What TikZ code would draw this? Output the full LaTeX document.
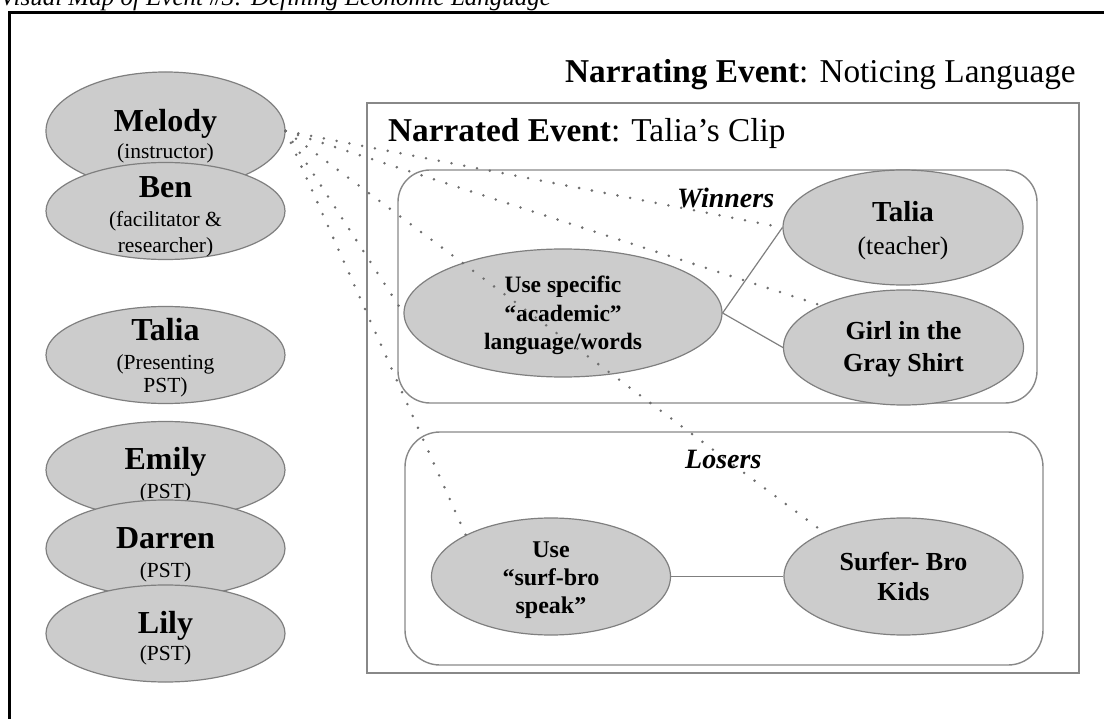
\documentclass[tikz,border=0pt]{standalone}
\usepackage{fontspec}
\setmainfont{Liberation Serif}
\usetikzlibrary{shapes.geometric}
\definecolor{shade}{HTML}{CCCCCC}
\definecolor{rim}{HTML}{7F7F7F}
\definecolor{dotc}{HTML}{6E6E6E}
\definecolor{boxline}{HTML}{888888}

\begin{document}
\begin{tikzpicture}[x=1pt,y=-1pt,
  blob/.style={ellipse, draw=rim, fill=shade, line width=1.2pt, inner sep=0pt},
  person/.style={blob, minimum width=239pt, minimum height=97pt},
  txt/.style={anchor=base, inner sep=0pt, text=black},
  nm/.style={txt, font=\fontsize{32}{38}\selectfont\bfseries},
  role/.style={txt, font=\fontsize{21.5}{26}\selectfont},
  inner/.style={txt, font=\fontsize{26}{30}\selectfont\bfseries},
  heading/.style={anchor=base west, inner sep=0pt, font=\fontsize{33.3}{40}\selectfont},
  group/.style={anchor=base west, inner sep=0pt, font=\fontsize{28}{32}\selectfont\bfseries\itshape},
  frame/.style={draw=boxline, line width=1.4pt},
  link/.style={draw=rim, line width=1.2pt},
  dots/.style={draw=dotc, line width=2.8pt, line cap=round, dash pattern=on 0pt off 13pt}
]
\useasboundingbox (0,0) rectangle (1104,719);

% caption and page frame
\node[anchor=base west, inner sep=0pt, font=\fontsize{25}{30}\selectfont\itshape]
  (maptitle) at (0,6) {Visual Map of Event \#3: Defining Economic Language};
\draw[line width=3.8pt] (9.5,719) -- (9.5,12.5) -- (1104,12.5);

% participants column
\node[blob, minimum width=239pt, minimum height=118pt] (melody) at (165.5,131) {};
\node[nm] (melodyN) at (165.5,132) {Melody};
\node[role] (melodyR) at (165.5,159) {(instructor)};

\node[person] (ben) at (165.5,211) {};
\node[nm] (benN) at (165.5,198) {Ben};
\node[role] (benR1) at (165.5,227) {(facilitator \&};
\node[role] (benR2) at (165.5,253) {researcher)};

\node[person] (taliaP) at (165.5,355) {};
\node[nm] (taliaPN) at (165.5,341) {Talia};
\node[role] (taliaPR1) at (165.5,370) {(Presenting};
\node[role] (taliaPR2) at (165.5,393) {PST)};

\node[person] (emily) at (165.5,470) {};
\node[nm] (emilyN) at (165.5,470) {Emily};
\node[role] (emilyR) at (165.5,498) {(PST)};

\node[person] (darren) at (165.5,548.5) {};
\node[nm] (darrenN) at (165.5,548) {Darren};
\node[role] (darrenR) at (165.5,577) {(PST)};

\node[person] (lily) at (165.5,633.5) {};
\node[nm] (lilyN) at (165.5,633) {Lily};
\node[role] (lilyR) at (165.5,660) {(PST)};

% event frames
\node[heading] (narrating) at (565,83) {\textbf{Narrating Event}: Noticing Language};
\draw[frame] (367,103) rectangle (1079,673);
\node[heading] (narrated) at (388,142) {\textbf{Narrated Event}: Talia’s Clip};

\draw[frame, rounded corners=32pt] (398,170) rectangle (1037,403);
\node[group] (winners) at (677,208) {Winners};
\draw[frame, rounded corners=35pt] (405,432) rectangle (1043,665);
\node[group] (losers) at (685,468) {Losers};

% winners
\node[blob, minimum width=240pt, minimum height=115pt] (taliaT) at (903,227.5) {};
\node[txt, font=\fontsize{29}{34}\selectfont\bfseries] (taliaTN) at (903,222) {Talia};
\node[txt, font=\fontsize{25.5}{30}\selectfont] (taliaTR) at (903,255) {(teacher)};

\node[blob, minimum width=240pt, minimum height=115pt] (girl) at (903.5,347.5) {};
\node[inner] (girlL1) at (903.5,340) {Girl in the};
\node[inner] (girlL2) at (903.5,372) {Gray Shirt};

\node[blob, minimum width=318pt, minimum height=128pt] (academic) at (563,313) {};
\node[txt, font=\fontsize{23.5}{28}\selectfont\bfseries] (acadL1) at (563,293) {Use specific};
\node[txt, font=\fontsize{23.5}{28}\selectfont\bfseries] (acadL2) at (563,322) {“academic”};
\node[txt, font=\fontsize{23.5}{28}\selectfont\bfseries] (acadL3) at (563,350) {language/words};

% losers
\node[blob, minimum width=239pt, minimum height=117pt] (surf) at (551,576.5) {};
\node[txt, font=\fontsize{24}{28}\selectfont\bfseries] (surfL1) at (551,557) {Use};
\node[txt, font=\fontsize{24}{28}\selectfont\bfseries] (surfL2) at (551,585) {“surf-bro};
\node[txt, font=\fontsize{24}{28}\selectfont\bfseries] (surfL3) at (551,613) {speak”};

\node[blob, minimum width=239pt, minimum height=117pt] (surfer) at (903.5,576.5) {};
\node[inner] (surferL1) at (903.5,570) {Surfer- Bro};
\node[inner] (surferL2) at (903.5,600) {Kids};

% solid links
\draw[link] (academic.east) -- (taliaT.west);
\draw[link] (academic.east) -- (girl.west);
\draw[link] (surf.east) -- (surfer.west);

% dotted links from the instructor
\draw[dots] (melody.east) -- (taliaT.west);
\draw[dots] (melody.east) -- (girl.153);
\draw[dots] (melody.east) -- (surfer.151);
\draw[dots] (melody.east) -- (academic.west);
\draw[dots] (melody.east) -- (surf.154);
\end{tikzpicture}
\end{document}
